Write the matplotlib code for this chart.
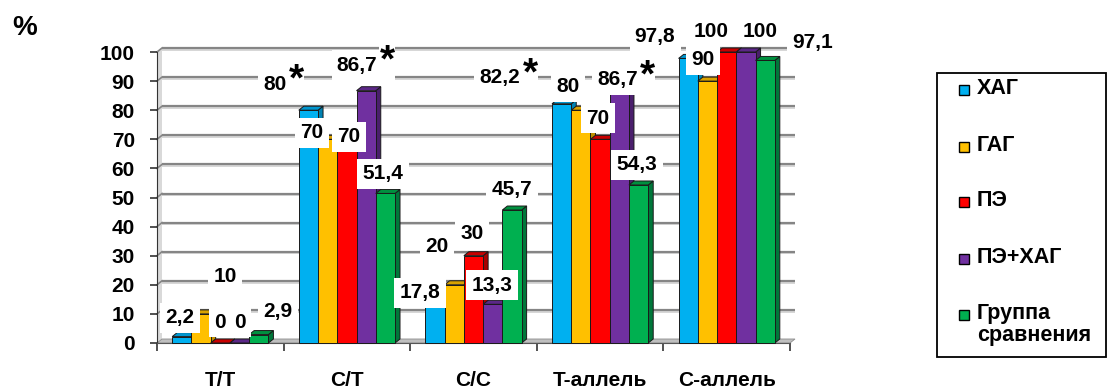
import matplotlib
matplotlib.use("Agg")
import matplotlib.pyplot as plt
from matplotlib.patches import Polygon, Rectangle

plt.rcParams["font.family"] = ["Liberation Sans", "DejaVu Sans"]
plt.rcParams["font.weight"] = "bold"

# ---- data -------------------------------------------------------------
categories = ["T/T", "C/T", "C/C", "T-аллель", "C-аллель"]
series_names = ["ХАГ", "ГАГ", "ПЭ", "ПЭ+ХАГ", "Группа\nсравнения"]
hag = [2.2, 80, 17.8, 82.2, 97.8]
gag = [10, 70, 20, 80, 90]
pe = [0, 70, 30, 70, 100]
pe_hag = [0, 86.7, 13.3, 86.7, 100]
control = [2.9, 51.4, 45.7, 54.3, 97.1]
series = [hag, gag, pe, pe_hag, control]
# (series index, category index) of statistically significant values
significant = [(0, 1), (3, 1), (0, 3), (3, 3)]
y_ticks = list(range(0, 101, 10))

# ---- styling ----------------------------------------------------------
front_colors = ["#00B0F0", "#FFC000", "#FF0000", "#7030A0", "#00B050"]
side_colors = ["#0082B2", "#BF8F00", "#A80000", "#4A1F6C", "#00773A"]
top_colors = ["#0096CF", "#D9A200", "#C80000", "#5B2787", "#00903F"]

# label anchor points (data coordinates), one row per series
label_pos = [
    [(-0.318, 8.6), (0.432, 89.0), (1.577, 17.2), (2.209, 91.1), (3.434, 105.2)],
    [(0.037, 22.7), (0.724, 72.2), (1.712, 33.0), (2.746, 88.0), (3.813, 97.3)],
    [(-0.002, 7.2), (1.017, 70.8), (1.988, 37.5), (2.983, 77.3), (3.876, 107.2)],
    [(0.156, 7.2), (1.080, 95.5), (2.146, 19.9), (3.141, 90.4), (4.263, 107.2)],
    [(0.456, 10.7), (1.285, 58.1), (2.304, 52.6), (3.291, 61.2), (4.682, 103.4)],
]

W, H = 1107, 390
fig = plt.figure(figsize=(W / 100, H / 100), dpi=100)
x0_px, x1_px, y0_px, y1_px = 157, 790, 343, 52
ax = fig.add_axes([x0_px / W, 1 - y0_px / H, (x1_px - x0_px) / W, (y0_px - y1_px) / H])
ax.set_xlim(-0.5, 4.5)
ax.set_ylim(0, 100)
ax.patch.set_alpha(0)

px_x = (4.5 + 0.5) / (x1_px - x0_px)
px_y = 100 / (y0_px - y1_px)
dx, dy = 5 * px_x, 4 * px_y  # depth offset of the 3D box

# left wall and floor
ax.add_patch(Polygon([(-0.5, 0), (-0.5, 100), (-0.5 + dx, 100 + dy), (-0.5 + dx, dy)],
                     closed=True, facecolor="#d9d9d9", edgecolor="none", zorder=0.5, clip_on=False))
ax.add_patch(Polygon([(-0.5, 0), (4.5, 0), (4.5 + dx, dy), (-0.5 + dx, dy)],
                     closed=True, facecolor="#bfbfbf", edgecolor="#8c8c8c", lw=0.6, zorder=0.6, clip_on=False))

# gridlines on the back wall
for v in y_ticks[1:]:
    ax.plot([-0.5 + dx, 4.5 + dx], [v + dy - 0.6, v + dy - 0.6], color="#d0d0d0", lw=1.2,
            zorder=0.8, clip_on=False, solid_capstyle="butt")
    ax.plot([-0.5 + dx, 4.5 + dx], [v + dy, v + dy], color="#858585", lw=1.6,
            zorder=0.9, clip_on=False, solid_capstyle="butt")
    ax.plot([-0.5, -0.5 + dx], [v, v + dy], color="#858585", lw=1.2, zorder=0.9, clip_on=False)

# bars with 3D top and side faces
bw = 0.152
for i, vals in enumerate(series):
    xs = [k + (i - 2) * bw for k in range(len(categories))]
    z = 3 + i * 0.1
    bars = ax.bar(xs, vals, width=bw, color=front_colors[i], edgecolor="#1a1a1a",
                  linewidth=0.7, zorder=z, clip_on=False)
    for b in bars:
        l, r, h = b.get_x(), b.get_x() + b.get_width(), b.get_height()
        ax.add_patch(Polygon([(r, 0), (r + dx, dy), (r + dx, h + dy), (r, h)], closed=True,
                             facecolor=side_colors[i], edgecolor="#1a1a1a", lw=0.7,
                             zorder=z - 0.01, clip_on=False))
        ax.add_patch(Polygon([(l, h), (r, h), (r + dx, h + dy), (l + dx, h + dy)], closed=True,
                             facecolor=top_colors[i], edgecolor="#1a1a1a", lw=0.7,
                             zorder=z - 0.01, clip_on=False))

# value labels on white boxes
def fmt(v):
    return f"{v:g}".replace(".", ",")

box = dict(boxstyle="square,pad=0.25", facecolor="white", edgecolor="none")
for i, vals in enumerate(series):
    for k, v in enumerate(vals):
        x, y = label_pos[i][k]
        t = ax.text(x, y, fmt(v), ha="center", va="center", fontsize=15, fontweight="bold",
                    bbox=box, zorder=10, clip_on=False)
        if (i, k) in significant:
            ax.annotate("*", xy=(1, 0.5), xycoords=t, xytext=(1.5, -10.5), textcoords="offset points",
                        ha="left", va="bottom", fontsize=28, fontweight="bold", zorder=10,
                        bbox=dict(boxstyle="square,pad=0.0", facecolor="white", edgecolor="none"))

# axes
for s in ["top", "right"]:
    ax.spines[s].set_visible(False)
ax.spines["left"].set_color("#333333")
ax.spines["bottom"].set_color("#555555")
ax.spines["left"].set_zorder(2)
ax.set_yticks(y_ticks)
ax.set_yticklabels([str(v) for v in y_ticks], fontsize=15, fontweight="bold")
ax.tick_params(axis="y", length=5, width=1.2, color="#333333", pad=11)
ax.set_xticks(range(len(categories)))
ax.set_xticklabels(categories, fontsize=15, fontweight="bold")
ax.tick_params(axis="x", length=0, pad=20)
ax.set_xticks([k - 0.5 for k in range(len(categories) + 1)], minor=True)
ax.tick_params(axis="x", which="minor", length=6, width=1.2, color="#333333")

fig.text(12 / W, 1 - 28 / H, "%", fontsize=20, fontweight="bold", va="center", ha="left")

# legend
lx0, ly0, lx1, ly1 = 937, 73, 1106, 357
fig.add_artist(Rectangle((lx0 / W, 1 - ly1 / H), (lx1 - lx0) / W, (ly1 - ly0) / H,
                         transform=fig.transFigure, facecolor="white", edgecolor="black", lw=1.3))
entry_y = [90, 147, 202, 259, 315]
for i, name in enumerate(series_names):
    yc = entry_y[i]
    fig.add_artist(Rectangle((959 / W, 1 - (yc + 5) / H), 10 / W, 10 / H, transform=fig.transFigure,
                             facecolor=front_colors[i], edgecolor="black", lw=1.0))
    fig.text(977 / W, 1 - (yc - 12) / H, name, fontsize=15.5, fontweight="bold", ha="left", va="top",
             linespacing=1.05)

fig.savefig("out.png", dpi=100)
